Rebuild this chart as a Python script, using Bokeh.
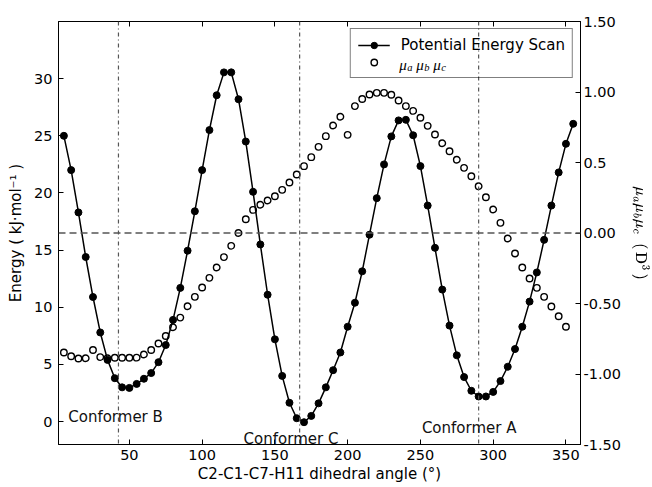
from bokeh.plotting import figure
from bokeh.models import Range1d, LinearAxis, FixedTicker, Span, Label, Legend, LegendItem
from bokeh.embed import file_html
from bokeh.resources import INLINE

# ---- data ----
angle_energy = [5, 10, 15, 20, 25, 30, 35, 40, 45, 50, 55, 60, 65, 70, 75, 80, 85, 90,
                95, 100, 105, 110, 115, 120, 125, 130, 135, 140, 145, 150, 155, 160,
                165, 170, 175, 180, 185, 190, 195, 200, 205, 210, 215, 220, 225, 230,
                235, 240, 245, 250, 255, 260, 265, 270, 275, 280, 285, 290, 295, 300,
                305, 310, 315, 320, 325, 330, 335, 340, 345, 350, 355]
energy = [25.0, 22.0, 18.3, 14.4, 10.9, 7.8, 5.4, 3.8, 3.0, 2.95, 3.3, 3.75, 4.25, 5.2,
          6.7, 8.9, 11.7, 14.95, 18.4, 22.0, 25.5, 28.55, 30.55, 30.55, 28.2, 24.5,
          20.1, 15.5, 11.1, 7.2, 4.0, 1.65, 0.3, -0.05, 0.5, 1.6, 3.0, 4.5, 6.05, 8.3,
          10.4, 13.15, 16.35, 19.55, 22.5, 24.95, 26.35, 26.4, 25.05, 22.35, 18.9,
          15.2, 11.55, 8.4, 5.8, 3.9, 2.7, 2.2, 2.2, 2.6, 3.55, 4.8, 6.35, 8.3, 10.5,
          13.05, 15.9, 18.9, 21.8, 24.3, 26.05]

angle_mu = [5, 10, 15, 20, 25, 30, 35, 40, 45, 50, 55, 60, 65, 70, 75, 80, 85, 90,
            95, 100, 105, 110, 115, 120, 125, 130, 135, 140, 145, 150, 155, 160,
            165, 170, 175, 180, 185, 190, 195, 200, 205, 210, 215, 220, 225, 230,
            235, 240, 245, 250, 255, 260, 265, 270, 275, 280, 285, 290, 295, 300,
            305, 310, 315, 320, 325, 330, 335, 340, 345, 350]
mu_product = [-0.847, -0.874, -0.89, -0.888, -0.83, -0.88, -0.888, -0.885, -0.885,
              -0.885, -0.884, -0.862, -0.83, -0.784, -0.73, -0.668, -0.6, -0.52,
              -0.453, -0.387, -0.318, -0.245, -0.171, -0.091, 0.0, 0.098, 0.164, 0.2,
              0.23, 0.261, 0.306, 0.358, 0.415, 0.474, 0.538, 0.611, 0.687, 0.762,
              0.824, 0.696, 0.9, 0.95, 0.982, 0.994, 0.994, 0.98, 0.94, 0.9, 0.866,
              0.817, 0.76, 0.699, 0.637, 0.58, 0.519, 0.462, 0.403, 0.332, 0.254,
              0.167, 0.072, -0.039, -0.145, -0.245, -0.323, -0.389, -0.453, -0.521,
              -0.59, -0.665]

conformer_angles = [42.5, 167, 290]
conformer_names = ["Conformer B", "Conformer C", "Conformer A"]
conformer_text_x = [8, 128.5, 251]
conformer_text_y = [0.4, -1.5, -0.6]

x_ticks = [50, 100, 150, 200, 250, 300, 350]
energy_ticks = [0, 5, 10, 15, 20, 25, 30]
mu_ticks = [-1.5, -1.0, -0.5, 0.0, 0.5, 1.0, 1.5]
mu_tick_labels = ["-1.50", "-1.00", "-0.50", "0.00", "0.5", "1.00", "1.50"]

# legend label "μ_a μ_b μ_c" assembled from text pieces (symbol, subscript)
legend_mu_subscripts = ["a", "b", "c"]

FONT = "DejaVu Sans"
MATH_FONT = "Liberation Serif"

p = figure(width=652, height=487,
           x_range=Range1d(1.3, 360), y_range=Range1d(-2, 35),
           output_backend="svg", toolbar_location=None,
           min_border_left=58, min_border_right=64,
           min_border_top=21, min_border_bottom=43)
p.extra_y_ranges = {"mu": Range1d(-1.5, 1.5)}

p.xgrid.visible = False
p.ygrid.visible = False
p.outline_line_color = "black"
p.outline_line_width = 1
p.background_fill_color = "white"
p.border_fill_color = "white"

def style_axis(ax, ticks):
    ax.ticker = FixedTicker(ticks=ticks)
    ax.major_tick_in = 5
    ax.major_tick_out = 0
    ax.minor_tick_line_color = None
    ax.axis_line_color = "black"
    ax.major_tick_line_color = "black"
    ax.major_label_text_font = FONT
    ax.major_label_text_font_size = "14.5px"
    ax.major_label_text_color = "black"
    ax.axis_label_text_font = FONT
    ax.axis_label_text_font_size = "15px"
    ax.axis_label_text_font_style = "normal"
    ax.axis_label_text_color = "black"

xa = p.xaxis[0]
style_axis(xa, x_ticks)
xa.axis_label = "C2-C1-C7-H11 dihedral angle (°)"
xa.major_label_standoff = 5
xa.axis_label_standoff = 2

ya = p.yaxis[0]
style_axis(ya, energy_ticks)
ya.axis_label = "Energy ( kJ·mol⁻¹ )"
ya.major_label_standoff = 6
ya.axis_label_standoff = 6

top = LinearAxis()
style_axis(top, x_ticks)
top.major_label_text_font_size = "1px"
top.major_label_text_color = None
top.major_label_standoff = 0
p.add_layout(top, "above")

right = LinearAxis(y_range_name="mu")
style_axis(right, mu_ticks)
right.major_label_overrides = {t: s for t, s in zip(mu_ticks, mu_tick_labels)}
right.major_label_standoff = 3
right.axis_label = r"$$\mu_a\mu_b\mu_c\;\;\mathrm{(\,D^3\,)}$$"
right.axis_label_text_font_size = "13px"
right.axis_label_standoff = 8
p.add_layout(right, "right")

# reference lines
p.add_layout(Span(location=0.0, dimension="width", y_range_name="mu",
                  line_color="#555555", line_width=1.3, line_dash="7 4"))
for a in conformer_angles:
    p.add_layout(Span(location=a, dimension="height",
                      line_color="#555555", line_width=1.2, line_dash="4 3 1 3"))

# data
ln = p.line(angle_energy, energy, line_color="black", line_width=1.5)
pts = p.scatter(angle_energy, energy, size=7, marker="circle",
                fill_color="black", line_color="black")
mus = p.scatter(angle_mu, mu_product, y_range_name="mu", size=6.5, marker="circle",
                fill_color=None, line_color="black", line_width=1.4)

for name, tx, ty in zip(conformer_names, conformer_text_x, conformer_text_y):
    p.add_layout(Label(x=tx, y=ty, text=name, text_font=FONT, text_font_size="15px",
                       text_color="#111111", text_baseline="alphabetic"))

legend = Legend(items=[LegendItem(label="Potential Energy Scan", renderers=[ln, pts]),
                       LegendItem(label=" ", renderers=[mus])],
                location="top_right", margin=7, padding=7, spacing=0,
                glyph_width=32, glyph_height=16, label_height=16, label_standoff=11,
                label_text_font=FONT, label_text_font_size="15px",
                label_text_color="black",
                border_line_color="black", border_line_width=1,
                background_fill_color="white", background_fill_alpha=0)
p.add_layout(legend)

# second legend label, set in math italic with subscripts
anchor_x, anchor_y = 235.5, 31.2
for i, sub in enumerate(legend_mu_subscripts):
    p.add_layout(Label(x=anchor_x, y=anchor_y, x_offset=17 * i, y_offset=0,
                       text="μ", text_font=MATH_FONT, text_font_style="italic",
                       text_font_size="15px", text_color="black",
                       text_baseline="alphabetic", level="overlay"))
    p.add_layout(Label(x=anchor_x, y=anchor_y, x_offset=17 * i + 8, y_offset=-3,
                       text=sub, text_font=MATH_FONT, text_font_style="italic",
                       text_font_size="10.5px", text_color="black",
                       text_baseline="alphabetic", level="overlay"))

open("out.html", "w").write(file_html(p, INLINE))
